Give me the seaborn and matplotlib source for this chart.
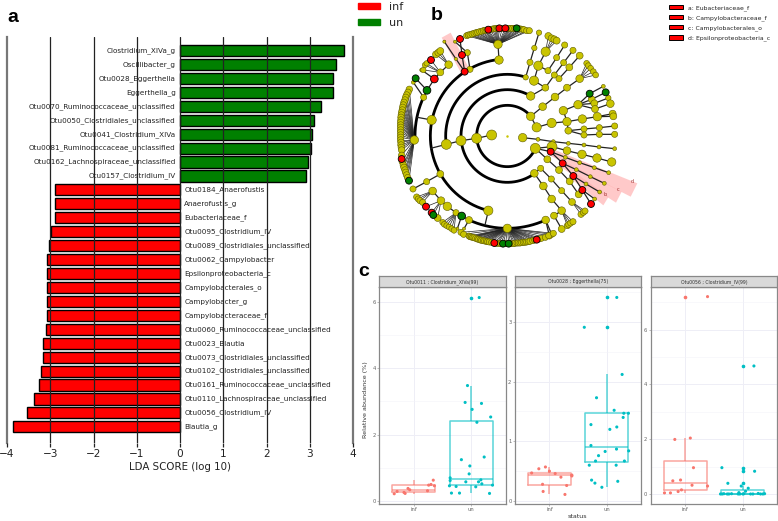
import matplotlib
matplotlib.use("Agg")
import matplotlib.pyplot as plt
import matplotlib.patches as mpatches
import numpy as np
import pandas as pd
import seaborn as sns

# ── Panel a: LDA scores ───────────────────────────────────────────────────────
taxa = [
    "Clostridium_XIVa_g", "Oscillibacter_g", "Otu0028_Eggerthella", "Eggerthella_g",
    "Otu0070_Ruminococcaceae_unclassified", "Otu0050_Clostridiales_unclassified",
    "Otu0041_Clostridium_XIVa", "Otu0081_Ruminococcaceae_unclassified",
    "Otu0162_Lachnospiraceae_unclassified", "Otu0157_Clostridium_IV",
    "Otu0184_Anaerofustis", "Anaerofustis_g", "Eubacteriaceae_f", "Otu0095_Clostridium_IV",
    "Otu0089_Clostridiales_unclassified", "Otu0062_Campylobacter", "Epsilonproteobacteria_c",
    "Campylobacterales_o", "Campylobacter_g", "Campylobacteraceae_f",
    "Otu0060_Ruminococcaceae_unclassified", "Otu0023_Blautia",
    "Otu0073_Clostridiales_unclassified", "Otu0102_Clostridiales_unclassified",
    "Otu0161_Ruminococcaceae_unclassified", "Otu0110_Lachnospiraceae_unclassified",
    "Otu0056_Clostridium_IV", "Blautia_g",
]
lda_scores = [
    3.79, 3.61, 3.53, 3.53, 3.27, 3.09, 3.06, 3.02, 2.95, 2.91,
    -2.88, -2.88, -2.88, -2.98, -3.04, -3.08, -3.08, -3.08, -3.08, -3.08,
    -3.10, -3.17, -3.17, -3.21, -3.25, -3.38, -3.54, -3.86,
]
lda_ticks = [-4, -3, -2, -1, 0, 1, 2, 3, 4]

# ── Panel b: cladogram, read in its own layout units ──────────────────────────
clade_centre = (322, 408)
arc_radius = [92, 139, 185, 231, 277, 277]
arc_start = [40, 60, 72.6, 96, 245.5, 155]
arc_end = [336, 306, 188, 256, 294.5, 182.5]

# polylines through the tree; diameter 0 is a joint with no node on it
chain_x = [
    [275, 230, 183, 139, 92], [368, 414, 460, 505, 552, 597, 644],
    [392, 428, 465, 501, 539], [410, 455, 501, 547, 592, 638], [592, 640],
    [501, 490, 534], [534, 569, 610], [534, 575, 617], [534, 583, 625], [534, 585, 631],
    [501, 505, 552, 598, 644], [505, 552, 598, 644], [377, 390, 403, 417],
    [402, 415, 437], [415, 444, 470, 494], [392, 436, 463, 491, 519], [463, 477, 508, 539],
    [402, 436], [392, 410], [406, 456, 501, 546, 591, 635], [406, 452, 496, 539, 583, 626],
    [452, 488, 529, 571, 613], [488, 520, 558, 599], [520, 547, 584], [547, 573],
    [406, 442, 477, 509, 536], [403, 430, 455, 485], [422, 454, 485, 516], [403, 422],
    [485, 462, 485], [437, 448], [437, 455], [265, 255], [121, 80, 39],
    [98, 123, 142, 168, 185, 207], [185, 172], [207, 192], [95, 52],
    [71, 81, 47], [71, 40], [103, 65], [146, 121, 103, 81, 71],
    [194, 168, 133], [194, 186, 180], [210, 202, 165], [297, 294],
]
chain_y = [
    [405, 415, 422, 433, 445], [413, 418, 425, 430, 435, 441, 446],
    [349, 320, 291, 263, 236], [382, 369, 365, 357, 350, 341], [350, 349],
    [365, 332, 314], [314, 281, 259], [314, 298, 277], [314, 310, 294], [314, 327, 311],
    [365, 392, 387, 383, 378], [392, 405, 403, 403], [232, 187, 144, 98],
    [242, 197, 155], [197, 212, 173, 135], [288, 263, 225, 188, 151], [225, 236, 202, 167],
    [242, 263], [349, 382], [445, 440, 452, 463, 474, 486], [445, 455, 472, 488, 503, 518],
    [455, 490, 509, 530, 550], [490, 528, 552, 576], [528, 570, 597], [570, 612],
    [445, 478, 510, 544, 583], [520, 558, 597, 632], [505, 537, 572, 606], [520, 505],
    [632, 647, 687], [660, 708], [660, 703], [632, 675], [522, 545, 567],
    [573, 602, 619, 638, 648, 660], [648, 686], [660, 686], [360, 352],
    [292, 271, 235], [292, 247], [237, 210], [194, 217, 237, 271, 292],
    [215, 177, 125], [215, 165, 117], [208, 158, 125], [180, 133],
]
chain_diam = [
    [26, 26, 26, 26, 0], [22, 10, 10, 10, 10, 10, 10],
    [22, 20, 20, 18, 20], [24, 24, 22, 22, 22, 18], [22, 18],
    [22, 22, 22], [22, 18, 10], [22, 18, 18], [22, 18, 14], [22, 18, 20],
    [22, 18, 16, 16, 16], [18, 16, 16, 16], [14, 16, 14, 14],
    [24, 24, 24], [24, 16, 16, 16], [22, 18, 16, 16, 16], [16, 16, 18, 18],
    [24, 18], [22, 24], [26, 26, 20, 22, 22, 22], [26, 18, 10, 10, 10, 10],
    [18, 18, 10, 10, 10], [18, 18, 10, 10], [18, 18, 10], [18, 18],
    [26, 18, 18, 18, 18], [20, 20, 20, 20], [16, 16, 16, 18], [20, 16],
    [20, 18, 18], [20, 16], [20, 16], [24, 0], [18, 16, 16],
    [20, 20, 22, 16, 20, 18], [20, 8], [18, 8], [24, 0],
    [16, 20, 16], [16, 10], [20, 10], [20, 18, 20, 20, 16],
    [16, 8, 8], [16, 16, 16], [16, 16, 8], [22, 22],
]

# hubs with a fan of leaves around the rim
hub_x = [294, 322, 43, 437, 539, 516, 485, 98, 123, 168, 121, 146]
hub_y = [133, 685, 420, 155, 236, 606, 632, 573, 602, 638, 217, 194]
hub_diam = [22, 22, 22, 24, 20, 18, 20, 20, 20, 16, 18, 20]
leaf_diam = [16, 16, 17, 18, 15, 16, 16, 16, 18, 15, 14, 18]
leaf_x = [
    [200, 205, 210, 216, 222, 228, 233, 239, 245, 250, 255, 260, 265, 272, 278, 283, 288, 293,
     298, 307, 316, 322, 328, 333, 338, 344, 350, 356, 362, 367, 372, 380, 388],
    [183, 191, 207, 210, 214, 218, 222, 227, 232, 236, 241, 245, 250, 254, 259, 263, 268, 275,
     283, 289, 295, 302, 309, 317, 326, 333, 340, 345, 351, 355, 360, 365, 370, 375, 380, 385,
     390, 398, 404, 410, 417, 424, 436, 446, 455, 460],
    [28, 24, 20, 17, 15, 12, 10, 8, 7, 5, 4, 3, 3, 2, 2, 2, 2, 2, 2, 2, 2, 3, 3, 4, 5, 5, 7, 10,
     12, 15, 17, 20, 23, 27],
    [445, 455, 463, 470],
    [560, 565, 572, 580, 587],
    [543, 550, 555],
    [502, 506, 512, 519],
    [50, 55, 60, 68],
    [78, 95, 100, 113],
    [128, 133, 140, 147, 155, 162],
    [70, 75, 80, 93],
    [108, 115, 121],
]
leaf_y = [
    [107, 105, 104, 102, 100, 98, 97, 95, 94, 92, 91, 90, 89, 88, 87, 86, 86, 85,
     85, 85, 85, 85, 85, 85, 85, 85, 85, 86, 87, 88, 89, 92, 92],
    [697, 703, 708, 710, 711, 712, 713, 715, 717, 718, 720, 721, 722, 723, 724, 725, 726, 727,
     729, 730, 730, 731, 731, 731, 731, 731, 731, 730, 729, 729, 729, 728, 727, 727, 726, 725,
     724, 722, 720, 719, 717, 715, 712, 707, 703, 700],
    [268, 277, 285, 292, 300, 307, 315, 322, 330, 337, 345, 352, 360, 367, 375, 382, 390, 397,
     405, 412, 420, 427, 435, 442, 450, 466, 485, 495, 502, 510, 517, 525, 533, 542],
    [108, 115, 118, 122],
    [190, 197, 205, 215, 225],
    [643, 637, 633],
    [677, 673, 669, 665],
    [591, 597, 602, 607],
    [620, 638, 645, 654],
    [667, 673, 677, 681, 686, 691],
    [210, 195, 190, 180],
    [163, 158, 153],
]
# the red rim node on the left fan sits among its neighbours
left_rim_inf_x = [5]
left_rim_inf_y = [477]

inf_nodes_x = [452, 488, 520, 547, 573, 283, 410, 78, 95, 103, 93, 194, 186, 180, 265, 298, 316]
inf_nodes_y = [455, 490, 528, 570, 612, 729, 719, 620, 638, 237, 180, 215, 165, 117, 89, 85, 85]
un_nodes_x = [569, 617, 350, 309, 326, 100, 185, 81, 47, 27]
un_nodes_y = [281, 277, 85, 731, 731, 645, 648, 271, 235, 542]

wedge_letters = ["a", "d", "c", "b"]
wedge_x = [[125, 152, 207, 185], [447, 465, 712, 692], [480, 495, 665, 648], [512, 528, 626, 610]]
wedge_y = [[113, 98, 205, 222], [465, 450, 550, 590], [500, 485, 575, 608], [535, 520, 590, 616]]
wedge_label_x = [133, 698, 655, 615]
wedge_label_y = [125, 545, 568, 582]
clade_legend = ["a: Eubacteriaceae_f", "b: Campylobacteraceae_f", "c: Campylobacterales_o",
                "d: Epsilonproteobacteria_c"]

# ── Panel c: relative abundance, offset = jitter ──────────────────────────────
facet_titles = ["Otu0011 ; Clostridium_XIVa(99)", "Otu0028 ; Eggerthella(75)",
                "Otu0056 ; Clostridium_IV(99)"]
facet_ylims = [(-0.10, 6.45), (-0.05, 3.58), (-0.365, 7.54)]
facet_major = [[0, 2, 4, 6], [0, 1, 2, 3], [0, 2, 4, 6]]
facet_minor = [[1, 3, 5], [0.5, 1.5, 2.5, 3.5], [1, 3, 5, 7]]

inf_values = [
    [.21, .28, .25, .22, .37, .33, .30, .47, .49, .45, .62],
    [.47, .54, .57, .50, .46, .40, .435, .42, .28, .26, .16, .11],
    [7.2, 2.04, 1.99, .96, .48, .51, .32, .29, .15, .09, .04, .04],
]
inf_offset = [
    [-.34, -.29, -.17, -.15, -.10, -.07, .24, .26, .30, .36, .34],
    [-.31, -.185, -.07, 0, .10, .20, .39, .39, -.12, .30, -.11, .27],
    [.39, .09, -.18, .145, -.215, -.08, .12, .39, -.064, -.122, -.256, -.36],
]
un_values = [
    [6.14, 3.48, 2.97, 2.76, 2.94, 2.53, 2.37, 1.24, 1.05, 1.32, .81, .69, .61, .45, .43, .57,
     .42, .57, .63, .51, .47, .23, .23, .22],
    [3.41, 2.91, 2.12, 1.73, 1.52, 1.47, 1.47, 1.40, 1.28, 1.24, 1.20, .93, .87, .84, .83, .76,
     .67, .67, .60, .60, .35, .30, .33, .23],
    [4.67, .96, .83, .39, .29, .21, .10, .05, 0, 0, .01, 0, 0, .01, 0, 0, .01, 0, 0, .02, 0, 0,
     .01, 0],
]
un_offset = [
    [.14, -.064, -.105, .017, .18, .34, .10, -.17, -.023, .227, -.035, -.366, -.366, -.378,
     -.262, -.093, .08, .128, .169, .186, .372, -.343, -.203, .32],
    [.173, -.393, .266, -.18, .127, .295, .376, .284, -.277, .173, .052, -.277, .168, .38, -.03,
     -.145, -.197, .306, -.306, .162, -.266, -.208, .19, -.087],
    [.198, -.36, .21, -.256, -.023, .099, .052, -.064, -.384, -.355, -.326, -.267, -.238, -.192,
     -.076, -.047, .023, .14, .18, .273, .314, .355, .384, .006],
]

# ── Plot ──────────────────────────────────────────────────────────────────────
W, H = 778, 521
RED, GREEN, OLIVE = "#ff0000", "#008000", "#c9c400"
INF, UN = "#F8766D", "#00BFC4"

sns.set_theme(style="white")
plt.rcParams["font.family"] = "DejaVu Sans"

fig = plt.figure(figsize=(W / 100, H / 100), dpi=100, facecolor="white")


def px_axes(x0, y0, x1, y1):
    return fig.add_axes([x0 / W, 1 - y1 / H, (x1 - x0) / W, (y1 - y0) / H])


# a ---------------------------------------------------------------------------
ax = px_axes(7, 37, 353, 443)
bars = pd.DataFrame({"taxon": taxa, "lda": lda_scores})
bars["group"] = np.where(bars["lda"] > 0, "un", "inf")
sns.barplot(data=bars, x="lda", y="taxon", hue="group", palette={"inf": RED, "un": GREEN},
            dodge=False, width=0.8, saturation=1, edgecolor="black", linewidth=1.0, legend=False, ax=ax)
ax.set_xlim(-4, 4)
ax.set_ylim(28.16, -0.97)
ax.set_xticks(lda_ticks)
ax.set_xticklabels([str(t).replace("-", "\u2212") for t in lda_ticks])
ax.set_yticks([])
ax.set_xlabel("LDA SCORE (log 10)", fontsize=7.4, color="#222222", labelpad=2)
ax.set_ylabel("")
ax.tick_params(axis="x", bottom=True, length=3, width=0.9, color="#222222", labelsize=7.6,
               labelcolor="#222222", pad=1.5)
ax.set_axisbelow(False)
ax.grid(axis="x", color="#222222", lw=0.9)
for t in (0, -1):
    ax.xaxis.get_gridlines()[t].set_visible(False)
for side in ("top", "bottom"):
    ax.spines[side].set_visible(False)
for side in ("left", "right"):
    ax.spines[side].set_color("#777777")
    ax.spines[side].set_linewidth(1.6)
for i, (name, score) in enumerate(zip(taxa, lda_scores)):
    if score > 0:
        ax.text(-0.1, i, name, ha="right", va="center", fontsize=5.2, color="#222222", zorder=6)
    else:
        ax.text(0.1, i, name, ha="left", va="center", fontsize=5.2, color="#222222", zorder=6)

fig.legend(handles=[mpatches.Patch(color=RED), mpatches.Patch(color=GREEN)], labels=["inf", "un"],
           loc="upper left", bbox_to_anchor=(348 / W, 1 + 8 / H), frameon=False, fontsize=8,
           handlelength=2.0, handleheight=0.5, labelspacing=0.55, handletextpad=0.8)

# b ---------------------------------------------------------------------------
ax = px_axes(400, 20, 640, 250)
ax.set_xlim(0, 720)
ax.set_ylim(750, 60)
ax.axis("off")

for xs, ys in zip(wedge_x, wedge_y):
    ax.fill(xs, ys, color="#ffb3b3", alpha=0.7, lw=0, zorder=1)
for letter, x, y in zip(wedge_letters, wedge_label_x, wedge_label_y):
    ax.text(x, y, letter, fontsize=3.5, color="#a03030", ha="center", va="center", zorder=2)

for r, a0, a1 in zip(arc_radius, arc_start, arc_end):
    theta = np.radians(np.linspace(a0, a1, 200))
    ax.plot(clade_centre[0] + r * np.cos(theta), clade_centre[1] - r * np.sin(theta),
            color="black", lw=2.0, solid_capstyle="round", zorder=2)

node_rows = []
for xs, ys, ds in zip(chain_x, chain_y, chain_diam):
    ax.plot(xs, ys, color="#222222", lw=0.9, zorder=2)
    node_rows += list(zip(xs, ys, ds))
for hx, hy, hd, lxs, lys, ld in zip(hub_x, hub_y, hub_diam, leaf_x, leaf_y, leaf_diam):
    for lx, ly in zip(lxs, lys):
        ax.plot([hx, lx], [hy, ly], color="#222222", lw=0.5, zorder=2)
        node_rows.append((lx, ly, ld))
    node_rows.append((hx, hy, hd))
node_rows += [(x, y, 18) for x, y in zip(left_rim_inf_x, left_rim_inf_y)]

nodes = pd.DataFrame(node_rows, columns=["x", "y", "diam"])
nodes = nodes[nodes["diam"] > 0].drop_duplicates(["x", "y"], keep="first").copy()
inf_set = set(zip(inf_nodes_x + left_rim_inf_x, inf_nodes_y + left_rim_inf_y))
un_set = set(zip(un_nodes_x, un_nodes_y))
nodes["status"] = [("inf" if p in inf_set else "un" if p in un_set else "none")
                   for p in zip(nodes["x"], nodes["y"])]
nodes.loc[nodes["status"] != "none", "diam"] = nodes["diam"].clip(lower=18)
plain = nodes[nodes["status"] == "none"]
marked = nodes[nodes["status"] != "none"]
area = {d: (0.72 * 1.15 * d / 3) ** 2 for d in nodes["diam"].unique()}
sns.scatterplot(data=plain, x="x", y="y", size="diam", sizes=area, color=OLIVE, edgecolor="#5f5c00",
                linewidth=0.4, legend=False, clip_on=False, zorder=3, ax=ax)
sns.scatterplot(data=marked, x="x", y="y", size="diam", sizes=area, hue="status",
                palette={"inf": RED, "un": GREEN}, edgecolor="black", linewidth=0.6,
                legend=False, clip_on=False, zorder=4, ax=ax)
ax.scatter([clade_centre[0]], [clade_centre[1]], s=0.6, color=OLIVE, zorder=3)
ax.set_xlabel("")
ax.set_ylabel("")

fig.legend(handles=[mpatches.Patch(facecolor=RED, edgecolor="black", lw=0.7) for _ in clade_legend],
           labels=clade_legend, loc="upper left", bbox_to_anchor=(663 / W, 1 + 1 / H), frameon=False,
           fontsize=4.4, handlelength=2.3, handleheight=0.8, labelspacing=0.65, handletextpad=0.9,
           labelcolor="#222222")

# c ---------------------------------------------------------------------------
facet_left = [379.3, 515, 650.7]
for k, x0 in enumerate(facet_left):
    ax = px_axes(x0, 287.3, x0 + 126.3, 504)
    long = pd.DataFrame({
        "status": ["inf"] * len(inf_values[k]) + ["un"] * len(un_values[k]),
        "abundance": inf_values[k] + un_values[k],
        "jitter": [o for o in inf_offset[k]] + [1 + o for o in un_offset[k]],
    })
    ax.set_axisbelow(True)
    ax.set_yticks(facet_major[k])
    ax.set_yticks(facet_minor[k], minor=True)
    sns.boxplot(data=long, x="status", y="abundance", hue="status", palette={"inf": INF, "un": UN},
                fill=False, width=0.75, linewidth=1.1, fliersize=1.6, showcaps=False, legend=False, ax=ax)
    for artist in list(ax.lines) + list(ax.patches):
        artist.set_alpha(0.65)
    for line in ax.lines:
        if line.get_marker() == "o":
            line.set_markerfacecolor(line.get_markeredgecolor())
            line.set_alpha(1)
    sns.scatterplot(data=long, x="jitter", y="abundance", hue="status", palette={"inf": INF, "un": UN},
                    s=5, linewidth=0, legend=False, ax=ax)
    ax.set_xlim(-0.6, 1.6)
    ax.set_ylim(*facet_ylims[k])
    ax.set_xticks([0, 1])
    ax.set_xticklabels(["inf", "un"])
    ax.grid(which="major", color="#eeeef6", lw=0.7)
    ax.grid(which="minor", color="#f3f3f8", lw=0.4)
    ax.tick_params(axis="both", which="major", length=1.5, width=0.4, color="#888888", labelsize=3.8,
                   labelcolor="#666666", pad=1, left=True, bottom=True)
    ax.tick_params(axis="y", which="minor", length=0)
    for spine in ax.spines.values():
        spine.set_color("#888888")
        spine.set_linewidth(0.9)
    ax.set_xlabel("")
    ax.set_ylabel("")

    strip = px_axes(x0, 276, x0 + 126.3, 287.3)
    strip.set_facecolor("#d9d9d9")
    strip.set_xticks([])
    strip.set_yticks([])
    for spine in strip.spines.values():
        spine.set_color("#888888")
        spine.set_linewidth(0.9)
    strip.text(0.5, 0.47, facet_titles[k], transform=strip.transAxes, ha="center", va="center",
               fontsize=3.3, color="#333333")

fig.text(365 / W, 1 - 400 / H, "Relative abundance (%)", rotation=90, ha="center", va="center",
         fontsize=4.6, color="#333333")
fig.text(577 / W, 1 - 517 / H, "status", ha="center", va="center", fontsize=4.6, color="#333333")

# panel letters
for letter, x, y in zip("abc", (13, 437, 364), (18, 16, 272)):
    fig.text(x / W, 1 - y / H, letter, ha="center", va="center", fontsize=14, fontweight="bold",
             family="Liberation Sans", color="black")

fig.savefig("out.png", dpi=100, facecolor="white")
